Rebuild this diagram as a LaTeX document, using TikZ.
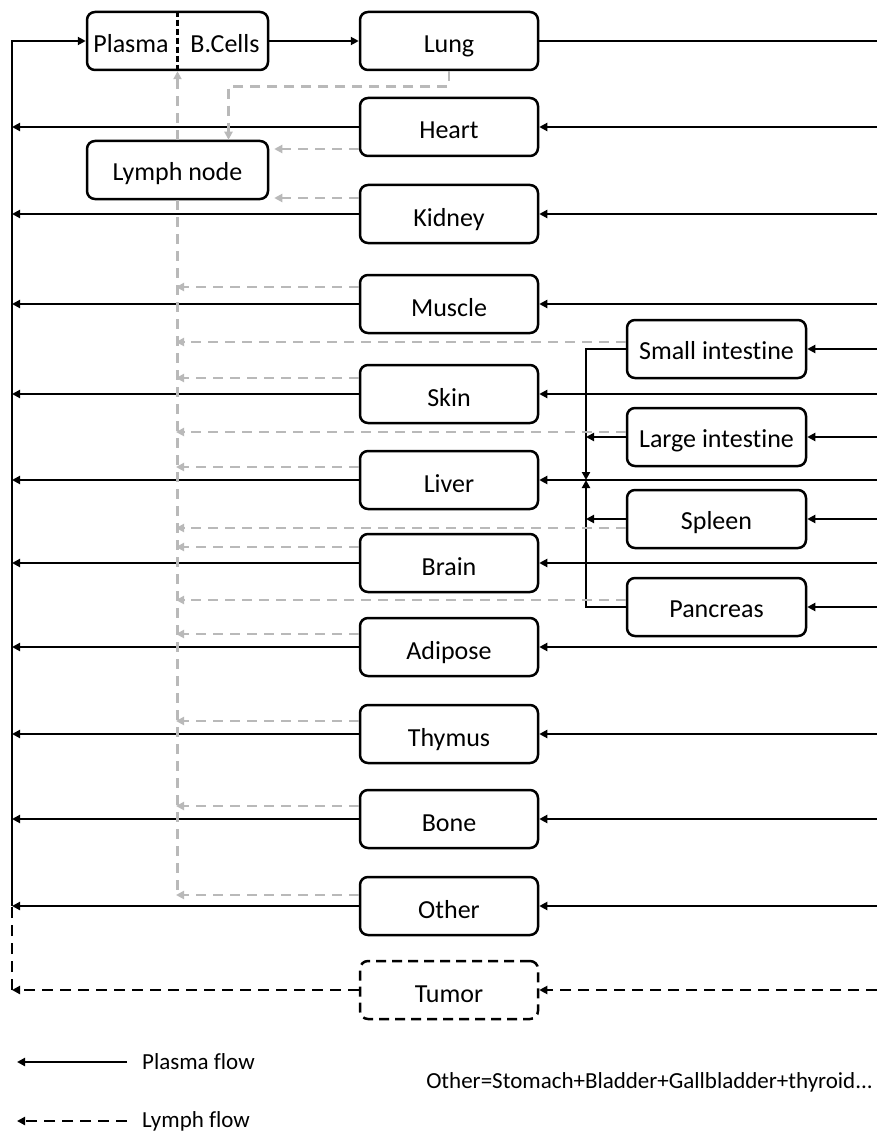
\documentclass[tikz,border=0pt]{standalone}
\usepackage{fontspec}
\setmainfont[Ligatures=NoCommon]{Carlito}
\usetikzlibrary{arrows.meta}
\begin{document}
\begin{tikzpicture}[x=1pt,y=-1pt,
  organ/.style={draw, line width=2.5pt, rounded corners=8pt, minimum width=178pt, minimum height=58pt, inner sep=0pt, text height=24pt, text depth=0pt, font=\fontsize{26}{30}\selectfont},
  tumorbox/.style={organ, dash pattern=on 10pt off 6pt},
  lbl/.style={inner sep=0pt, font=\fontsize{26}{30}\selectfont},
  legtext/.style={inner sep=0pt, anchor=west, font=\fontsize{23}{27}\selectfont},
  tip/.style={-{Triangle[length=8pt,width=8pt]}},
  pflow/.style={line width=2.4pt, tip},
  pline/.style={line width=2.4pt},
  lblack/.style={line width=2.6pt, dash pattern=on 11pt off 7pt, tip},
  lblackline/.style={line width=2.6pt, dash pattern=on 11pt off 7pt},
  gflow/.style={line width=2.6pt, gray!55, dash pattern=on 10pt off 7pt, tip},
  gline/.style={line width=2.6pt, gray!55, dash pattern=on 10pt off 7pt}
]
\useasboundingbox (0,0) rectangle (877,1134);
\fill[white] (0,0) rectangle (877,1134);

\coordinate (L) at (12,41);
\coordinate (R) at (877,41);
\coordinate (J) at (586,480);
\coordinate (T) at (178,895);

% nodes
\node[organ, minimum width=181pt] (plasma) at (177.5,41) {};
\node[lbl] (ptext) at (131,44) {Plasma};
\node[lbl] (btext) at (225,44) {B.Cells};
\node[organ, minimum width=181pt, text height=20pt] (lymph) at (177.5,170) {Lymph node};

\node[organ] (lung) at (449,41) {Lung};
\node[organ] (heart) at (449,127) {Heart};
\node[organ] (kidney) at (449,214) {Kidney};
\node[organ] (muscle) at (449,304) {Muscle};
\node[organ] (skin) at (449,394) {Skin};
\node[organ] (liver) at (449,480) {Liver};
\node[organ] (brain) at (449,563) {Brain};
\node[organ] (adipose) at (449,647) {Adipose};
\node[organ] (thymus) at (449,734) {Thymus};
\node[organ] (bone) at (449,819) {Bone};
\node[organ] (other) at (449,906) {Other};
\node[tumorbox] (tumor) at (449,990) {Tumor};

\node[organ, minimum width=179pt, text height=21pt] (si) at (716.5,349) {Small intestine};
\node[organ, minimum width=179pt, text height=21pt] (li) at (716.5,437) {Large intestine};
\node[organ, minimum width=179pt, text height=21pt] (spleen) at (716.5,519) {Spleen};
\node[organ, minimum width=179pt, text height=21pt] (pancreas) at (716.5,607) {Pancreas};

% divider in plasma box
\draw[line width=2.4pt, dash pattern=on 6pt off 3pt] (plasma.north) -- (plasma.south);

% main plasma loop
\draw[pflow] (other.west -| L) -- (L) -- (plasma.west);
\draw[pflow] (plasma.east) -- (lung.west);
\draw[pline] (lung.east) -- (lung.east -| R);

\foreach \o in {heart,kidney,muscle,skin,liver,brain,adipose,thymus,bone,other}{
  \draw[pflow] (\o.west) -- (\o.west -| L);
  \draw[pflow] (\o.east -| R) -- (\o.east);
}
\foreach \o in {si,li,spleen,pancreas}{
  \draw[pflow] (\o.east -| R) -- (\o.east);
}
% gut to liver
\draw[pflow] (si.west) -| (J);
\draw[pflow] (pancreas.west) -| (J);
\draw[pflow] (li.west) -- (li.west -| J);
\draw[pflow] (spleen.west) -- (spleen.west -| J);

% tumor
\draw[lblack] (tumor.east -| R) -- (tumor.east);
\draw[lblack] (tumor.west) -- (tumor.west -| L);
\draw[lblackline] (tumor.west -| L) -- (other.west -| L);

% lymph
\draw[gflow] (lung.south) -- ++(0,15) -| ([xshift=51pt]lymph.north);
\coordinate (hl) at ([yshift=-22pt]heart.west);
\draw[gflow, shorten >=5pt] (hl) -- (hl -| lymph.east);
\coordinate (kl) at ([yshift=16pt]kidney.west);
\draw[gflow, shorten >=5pt] (kl) -- (kl -| lymph.east);
\draw[gflow] (lymph.north) -- (plasma.south);
\draw[gline] (lymph.south) -- (lymph.south |- T) -- ([xshift=2pt]T);

\foreach \o/\d in {muscle/17,skin/16,liver/13,brain/16,adipose/13,thymus/13,bone/13,other/11,si/7,li/5,spleen/-9,pancreas/7}{
  \coordinate (g\o) at ([yshift=\d pt]\o.west);
  \draw[gflow, shorten >=-2pt] (g\o) -- (g\o -| T);
}

% legend
\node[legtext] (lp) at (142,1062) {Plasma flow};
\node[legtext] (ll) at (142,1121) {Lymph flow};
\draw[pflow] ([xshift=-15pt]lp.west) -- ++(-110,0);
\draw[lblack] ([xshift=-15pt]ll.west) -- ++(-110,0);
\node[legtext, anchor=east] (note) at (873,1082) {Other=Stomach+Bladder+Gallbladder+thyroid...};
\end{tikzpicture}
\end{document}
